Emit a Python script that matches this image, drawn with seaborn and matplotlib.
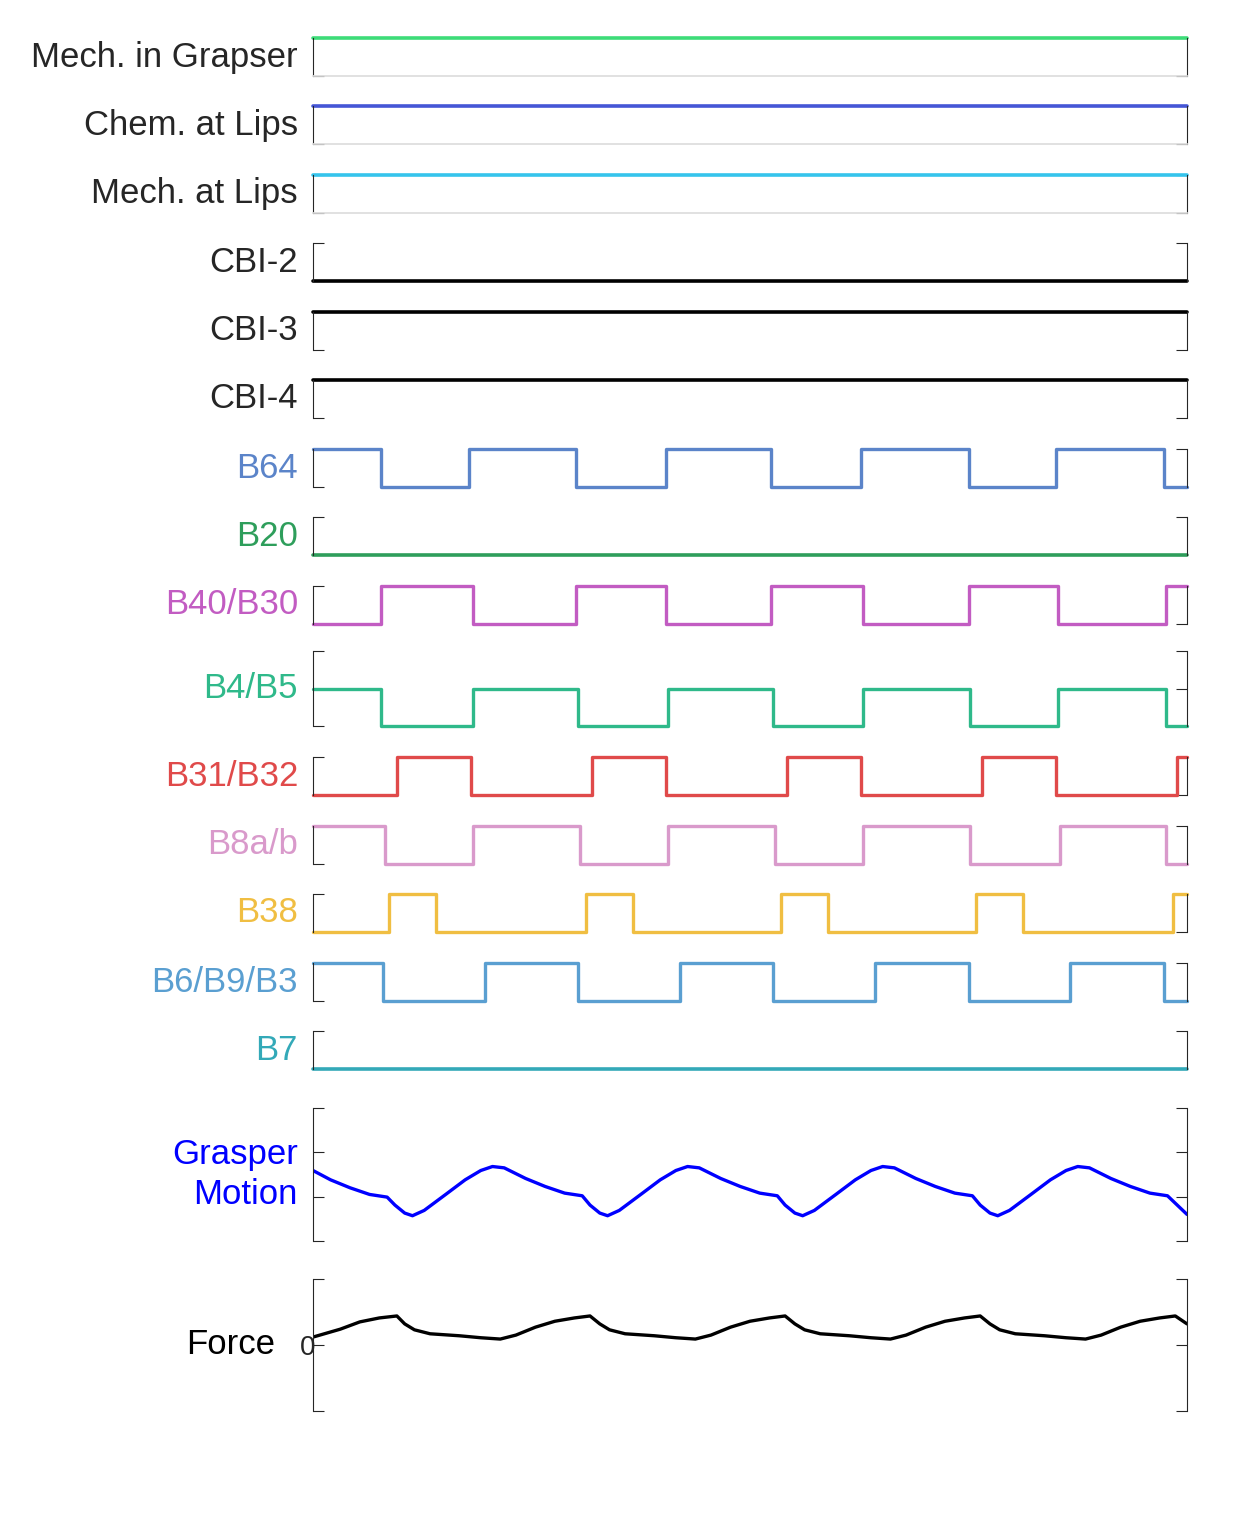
import matplotlib
matplotlib.use("Agg")
import matplotlib.pyplot as plt
import numpy as np
import pandas as pd
import seaborn as sns

sns.set_theme(style="white")
plt.rcParams["font.family"] = ["Liberation Sans", "DejaVu Sans"]

T_END = 44.8
FS = 25

# constant channels: (colour, level, grey baseline, label colour)
const_rows = {
    "Mech. in Grapser": ("#3ddc78", 1, True, "#262626"),
    "Chem. at Lips": ("#4556d6", 1, True, "#262626"),
    "Mech. at Lips": ("#35c4ec", 1, True, "#262626"),
    "CBI-2": ("#000000", 0, False, "#262626"),
    "CBI-3": ("#000000", 1, False, "#262626"),
    "CBI-4": ("#000000", 1, False, "#262626"),
    "B20": ("#2e9e5b", 0, False, "#2e9e5b"),
    "B7": ("#33a9b8", 0, False, "#33a9b8"),
}

# switching channels: start level, transition times
b64_start, b64_edges = 1, [3.5, 8.0, 13.5, 18.1, 23.5, 28.1, 33.6, 38.1, 43.6]
b40_start, b40_edges = 0, [3.5, 8.2, 13.5, 18.1, 23.5, 28.2, 33.6, 38.2, 43.7]
b4_start, b4_edges = 1, [3.5, 8.2, 13.6, 18.2, 23.6, 28.2, 33.7, 38.2, 43.7]
b31_start, b31_edges = 0, [4.3, 8.1, 14.3, 18.1, 24.3, 28.1, 34.3, 38.1, 44.3]
b8_start, b8_edges = 1, [3.7, 8.2, 13.7, 18.2, 23.7, 28.2, 33.7, 38.3, 43.7]
b38_start, b38_edges = 0, [3.9, 6.3, 14.0, 16.4, 24.0, 26.4, 34.0, 36.4, 44.1]
b6_start, b6_edges = 1, [3.6, 8.8, 13.6, 18.8, 23.6, 28.8, 33.6, 38.8, 43.6]

grasp_t = [0.0, 0.9, 1.9, 2.9, 3.8, 4.2, 4.7, 5.1, 5.7, 6.8, 7.8, 8.6, 9.2, 9.8,
           10.9, 11.9, 12.9, 13.8, 14.2, 14.7, 15.1, 15.7, 16.8, 17.8, 18.6, 19.2,
           19.8, 20.9, 21.9, 22.9, 23.8, 24.2, 24.7, 25.1, 25.7, 26.8, 27.8, 28.6,
           29.2, 29.8, 30.9, 31.9, 32.9, 33.8, 34.2, 34.7, 35.1, 35.7, 36.8, 37.8,
           38.6, 39.2, 39.8, 40.9, 41.9, 42.9, 43.8, 44.3, 44.8]
grasp_v = [0.53, 0.46, 0.40, 0.35, 0.33, 0.27, 0.21, 0.19, 0.23, 0.35, 0.46, 0.53,
           0.56, 0.55, 0.47, 0.41, 0.36, 0.34, 0.27, 0.21, 0.19, 0.23, 0.35, 0.46,
           0.53, 0.56, 0.55, 0.47, 0.41, 0.36, 0.34, 0.27, 0.21, 0.19, 0.23, 0.35,
           0.46, 0.53, 0.56, 0.55, 0.47, 0.41, 0.36, 0.34, 0.27, 0.21, 0.19, 0.23,
           0.35, 0.46, 0.53, 0.56, 0.55, 0.47, 0.41, 0.36, 0.34, 0.27, 0.20]

force_t = [0.0, 1.4, 2.4, 3.4, 4.3, 4.7, 5.2, 6.0, 7.5, 8.6, 9.6, 10.4, 11.4, 12.4,
           13.4, 14.2, 14.7, 15.2, 16.0, 17.5, 18.6, 19.6, 20.4, 21.4, 22.4, 23.4,
           24.2, 24.7, 25.2, 26.0, 27.5, 28.6, 29.6, 30.4, 31.4, 32.4, 33.4, 34.2,
           34.7, 35.2, 36.0, 37.5, 38.6, 39.6, 40.4, 41.4, 42.4, 43.4, 44.2, 44.8]
force_v = [0.12, 0.24, 0.35, 0.41, 0.44, 0.32, 0.23, 0.17, 0.14, 0.11, 0.09, 0.15,
           0.27, 0.36, 0.41, 0.44, 0.32, 0.23, 0.17, 0.14, 0.11, 0.09, 0.15, 0.27,
           0.36, 0.41, 0.44, 0.32, 0.23, 0.17, 0.14, 0.11, 0.09, 0.15, 0.27, 0.36,
           0.41, 0.44, 0.32, 0.23, 0.17, 0.14, 0.11, 0.09, 0.15, 0.27, 0.36, 0.41,
           0.44, 0.32]

W, H = 1250, 1523
L, R = 313, 1187
fig = plt.figure(figsize=(12.5, 15.23), dpi=100)


def make_ax(top, bottom):
    ax = fig.add_axes([L / W, 1 - bottom / H, (R - L) / W, (bottom - top) / H])
    ax.set_xlim(0, T_END)
    ax.set_xticks([])
    for s in ["top", "bottom"]:
        ax.spines[s].set_visible(False)
    for s in ["left", "right"]:
        ax.spines[s].set_color("#262626")
        ax.spines[s].set_linewidth(0.8)
    ax.tick_params(axis="y", direction="in", length=8, width=0.8, color="#262626",
                   left=True, right=True, labelleft=False, pad=4)
    return ax


def label(ax, text, color, y=0.5):
    ax.text(-15 / (R - L), y, text, transform=ax.transAxes, ha="right", va="center",
            fontsize=FS, color=color)


def step_series(start, edges):
    xs = [0.0] + edges
    vs = [start if i % 2 == 0 else 1 - start for i in range(len(xs))]
    xs.append(T_END)
    vs.append(vs[-1])
    return pd.DataFrame({"t": xs, "v": vs})


def const_panel(top, name):
    color, level, grey, lcolor = const_rows[name]
    ax = make_ax(top, top + 38)
    ax.set_ylim(0, 1)
    ax.set_yticks([0, 1])
    if grey:
        ax.spines["bottom"].set_visible(True)
        ax.spines["bottom"].set_color("#dddddd")
    df = pd.DataFrame({"t": [0, T_END], "v": [level, level]})
    sns.lineplot(data=df, x="t", y="v", color=color, lw=2.6, ax=ax, clip_on=False)
    ax.set_xlabel(""); ax.set_ylabel("")
    label(ax, name, lcolor)


def step_panel(top, name, color, start, edges, tall=False):
    bottom = top + (75 if tall else 38)
    ax = make_ax(top, bottom)
    ymax = 2 if tall else 1
    ax.set_ylim(0, ymax)
    ax.set_yticks(list(range(ymax + 1)))
    sns.lineplot(data=step_series(start, edges), x="t", y="v", color=color, lw=2.4,
                 drawstyle="steps-post", ax=ax, clip_on=False)
    ax.set_xlabel(""); ax.set_ylabel("")
    label(ax, name, color)


const_panel(38, "Mech. in Grapser")
const_panel(106, "Chem. at Lips")
const_panel(175, "Mech. at Lips")
const_panel(243, "CBI-2")
const_panel(312, "CBI-3")
const_panel(380, "CBI-4")
step_panel(449, "B64", "#5b84c9", b64_start, b64_edges)
const_panel(517, "B20")
step_panel(586, "B40/B30", "#c25cc2", b40_start, b40_edges)
step_panel(651, "B4/B5", "#2fb98a", b4_start, b4_edges, tall=True)
step_panel(757, "B31/B32", "#e04a4a", b31_start, b31_edges)
step_panel(826, "B8a/b", "#d99acb", b8_start, b8_edges)
step_panel(894, "B38", "#f0be42", b38_start, b38_edges)
step_panel(963, "B6/B9/B3", "#5a9fd1", b6_start, b6_edges)
const_panel(1031, "B7")

ax = make_ax(1108, 1241)
ax.set_ylim(0, 1)
ax.set_yticks([0, 1 / 3, 2 / 3, 1])
sns.lineplot(x=grasp_t, y=grasp_v, color="#0000ff", lw=2.4, ax=ax)
ax.text(-15 / (R - L), 0.5, "Grasper\nMotion", transform=ax.transAxes, ha="right",
        va="center", fontsize=FS, color="#0000ff", linespacing=1.3)

ax = make_ax(1279, 1411)
ax.set_ylim(-1, 1)
ax.set_yticks([-1, 0, 1])
ax.tick_params(axis="y", labelleft=True, labelsize=20, labelcolor="#262626", pad=-2)
ax.set_yticklabels(["", "0", ""])
sns.lineplot(x=force_t, y=force_v, color="black", lw=2.4, ax=ax)
ax.text(-38 / (R - L), 0.5, "Force", transform=ax.transAxes, ha="right",
        va="center", fontsize=FS, color="black")

fig.savefig("out.png", dpi=100)
